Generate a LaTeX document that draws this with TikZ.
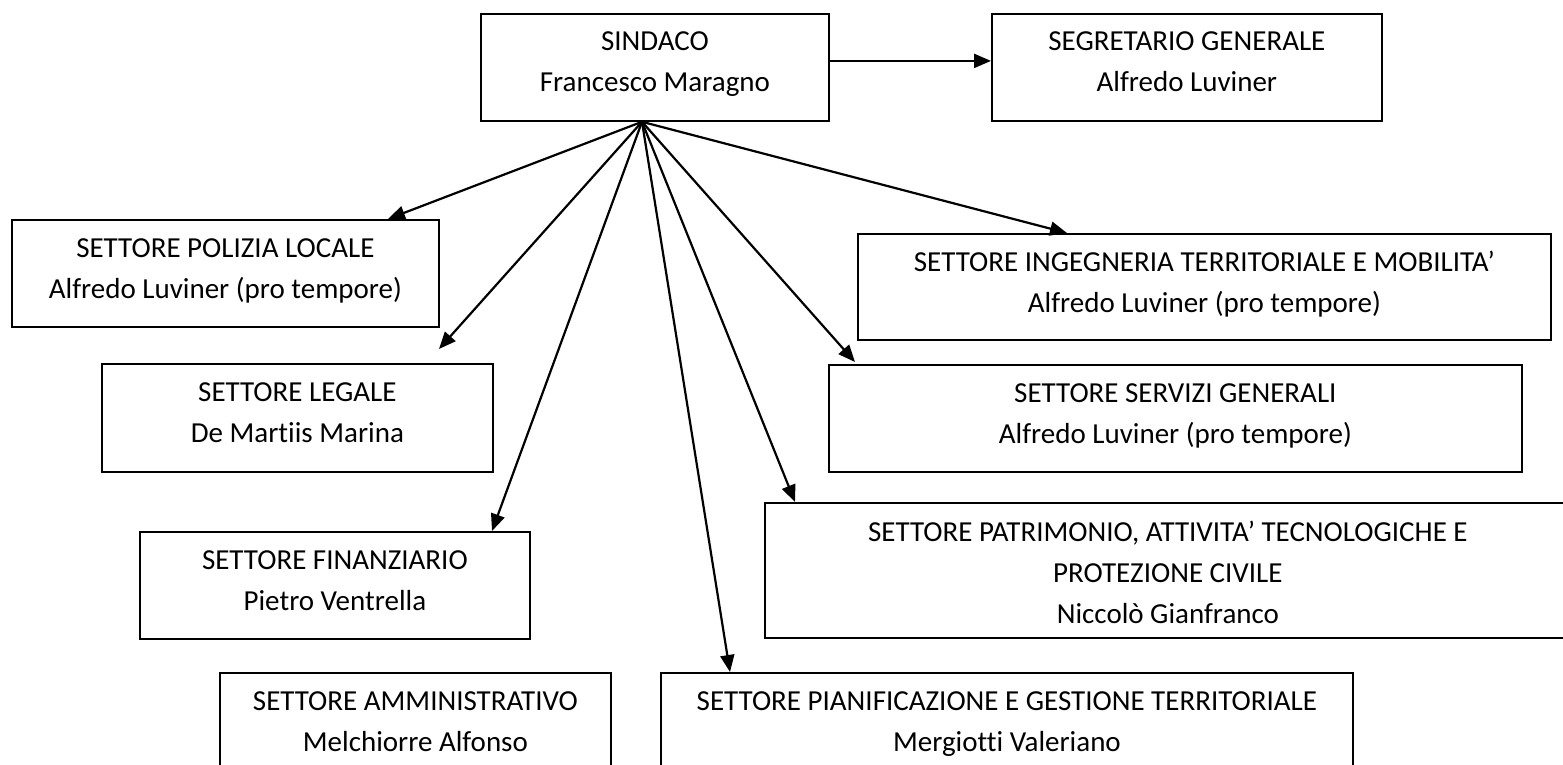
\documentclass[tikz,border=0pt]{standalone}
\usepackage{fontspec}
\setmainfont{Carlito}[Ligatures=NoCommon]
\usetikzlibrary{arrows.meta}
\tikzset{
  box/.style={draw, line width=1.8pt, rectangle, inner sep=0pt, anchor=north west},
  txt/.style={anchor=north, inner sep=0pt, align=center, font=\fontsize{29}{41}\selectfont},
  arr/.style={line width=2.2pt, -{Triangle[length=17pt,width=14pt]}},
}
\newcommand{\fl}{\rule{0pt}{20pt}}
\begin{document}
\begin{tikzpicture}[x=1pt,y=-1pt]
\useasboundingbox (0,0) rectangle (1563,765);
\fill[white] (0,0) rectangle (1563,765);
\clip (0,0) rectangle (1563,765);

% boxes
\node[box, minimum width=348pt, minimum height=107pt] (sind) at (480,13) {};
\node[box, minimum width=390pt, minimum height=107pt] (seg) at (991,13) {};
\node[box, minimum width=427pt, minimum height=107pt] (pol) at (11,219) {};
\node[box, minimum width=391pt, minimum height=108pt] (leg) at (101,363) {};
\node[box, minimum width=390pt, minimum height=107pt] (fin) at (139,531) {};
\node[box, minimum width=391pt, minimum height=107pt] (amm) at (219,672) {};
\node[box, minimum width=693pt, minimum height=106pt] (ing) at (857,233) {};
\node[box, minimum width=693pt, minimum height=107pt] (ser) at (828,364) {};
\node[box, minimum width=806pt, minimum height=135pt] (pat) at (764,502) {};
\node[box, minimum width=692pt, minimum height=107pt] (pia) at (660,672) {};

% texts
\node[txt] (sindt) at ([yshift=-17pt]sind.north) {\fl SINDACO\\Francesco Maragno};
\node[txt] (segt) at ([yshift=-17pt]seg.north) {\fl SEGRETARIO GENERALE\\Alfredo Luviner};
\node[txt] (polt) at ([yshift=-18pt]pol.north) {\fl SETTORE POLIZIA LOCALE\\Alfredo Luviner (pro tempore)};
\node[txt] (legt) at ([yshift=-18pt]leg.north) {\fl SETTORE LEGALE\\De Martiis Marina};
\node[txt] (fint) at ([yshift=-18pt]fin.north) {\fl SETTORE FINANZIARIO\\Pietro Ventrella};
\node[txt] (ammt) at ([yshift=-18pt]amm.north) {\fl SETTORE AMMINISTRATIVO\\Melchiorre Alfonso};
\node[txt] (ingt) at ([yshift=-18pt]ing.north) {\fl SETTORE INGEGNERIA TERRITORIALE E MOBILITA’\\Alfredo Luviner (pro tempore)};
\node[txt] (sert) at ([yshift=-18pt]ser.north) {\fl SETTORE SERVIZI GENERALI\\Alfredo Luviner (pro tempore)};
\node[txt] (patt) at ([yshift=-19pt]pat.north) {\fl SETTORE PATRIMONIO, ATTIVITA’ TECNOLOGICHE E\\PROTEZIONE CIVILE\\Niccolò Gianfranco};
\node[txt] (piat) at ([yshift=-18pt]pia.north) {\fl SETTORE PIANIFICAZIONE E GESTIONE TERRITORIALE\\Mergiotti Valeriano};

% connectors
\coordinate (src) at ([xshift=162pt]sind.south west);
\draw[arr] ([yshift=6.5pt]sind.east) -- ([yshift=6.5pt]seg.west);
\draw[arr] (src) -- ([xshift=377pt]pol.north west);
\draw[arr] (src) -- ([xshift=338pt,yshift=14pt]leg.north west);
\draw[arr] (src) -- ([xshift=353pt]fin.north west);
\draw[arr] (src) -- ([xshift=70pt]pia.north west);
\draw[arr] (src) -- ([xshift=31pt]pat.north west);
\draw[arr] (src) -- ([xshift=27pt,yshift=2pt]ser.north west);
\draw[arr] (src) -- ([xshift=210pt]ing.north west);
\end{tikzpicture}
\end{document}
